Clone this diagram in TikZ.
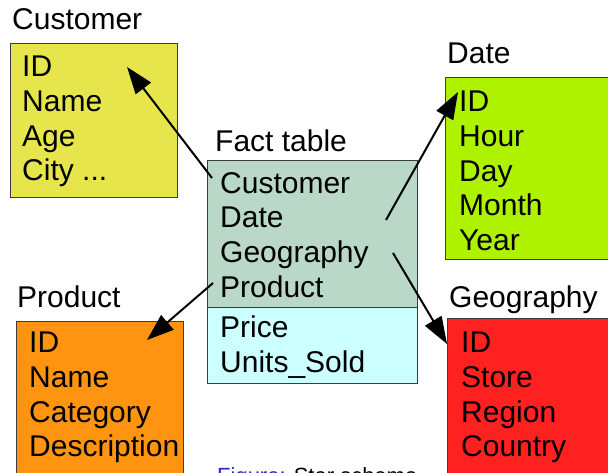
\documentclass[tikz,border=0pt]{standalone}
\usepackage{fontspec}
\setmainfont{Liberation Sans}
\usetikzlibrary{arrows.meta}
\definecolor{custfill}{RGB}{230,230,76}
\definecolor{datefill}{RGB}{174,242,0}
\definecolor{prodfill}{RGB}{255,148,16}
\definecolor{geofill}{RGB}{255,32,32}
\definecolor{factkeys}{RGB}{185,216,200}
\definecolor{factmeas}{RGB}{204,255,255}
\definecolor{boxline}{RGB}{60,60,60}
\definecolor{capblue}{RGB}{40,40,200}
\tikzset{
  tbl/.style={draw=boxline, line width=0.8pt, inner sep=0pt},
  title/.style={anchor=base west, inner sep=0pt, font=\fontsize{30}{30}\selectfont},
  rows/.style={anchor=north west, inner sep=0pt, align=left,
    font=\fontsize{30}{34.7}\selectfont},
  link/.style={line width=2pt, -{Triangle[length=27pt,width=19pt]}}
}
\begin{document}
\begin{tikzpicture}[x=1pt,y=-1pt]
\useasboundingbox (0,0) rectangle (608,473);

% dimension tables
\path[tbl, fill=custfill] (10,43) rectangle (177,197);
\path[tbl, fill=datefill] (445,77) rectangle (612,259);
\path[tbl, fill=prodfill] (16,321) rectangle (183,480);
\path[tbl, fill=geofill] (447,318) rectangle (612,480);

% fact table: keys on top, measures below
\path[tbl, fill=factkeys] (207,160) rectangle (417,307);
\path[tbl, fill=factmeas] (207,307) rectangle (417,383);

% titles
\node[title] (tcust) at (12,30) {Customer};
\node[title] (tfact) at (215,152) {Fact table};
\node[title] (tdate) at (447,64) {Date};
\node[title] (tprod) at (17,308) {Product};
\node[title] (tgeo) at (449,307) {Geography};

% row texts
\node[rows] (rcust) at (22,56) {ID\\Name\\Age\\City ...};
\node[rows] (rfact) at (220,172) {Customer\\Date\\Geography\\Product};
\node[rows] (rmeas) at (220,316) {Price\\Units\_Sold};
\node[rows] (rdate) at (459,91) {ID\\Hour\\Day\\Month\\Year};
\node[rows] (rprod) at (29,332) {ID\\Name\\Category\\Description};
\node[rows] (rgeo) at (461,332) {ID\\Store\\Region\\Country};

% link end points
\coordinate (fkcust) at (212,178);
\coordinate (fkdate) at (386,220);
\coordinate (fkgeo) at (393,253);
\coordinate (fkprod) at (213,283);
\coordinate (pkcust) at (127,67);
\coordinate (pkdate) at (458,92);
\coordinate (pkgeo) at (447,344);
\coordinate (pkprod) at (147,340);

\draw[link] (fkcust) -- (pkcust);
\draw[link] (fkdate) -- (pkdate);
\draw[link] (fkgeo) -- (pkgeo);
\draw[link] (fkprod) -- (pkprod);

% caption, cut by the page edge
\node[anchor=base west, inner sep=0pt, font=\fontsize{22}{22}\selectfont] (cap)
  at (217,483) {\textcolor{capblue}{Figure:} Star schema};
\end{tikzpicture}
\end{document}
